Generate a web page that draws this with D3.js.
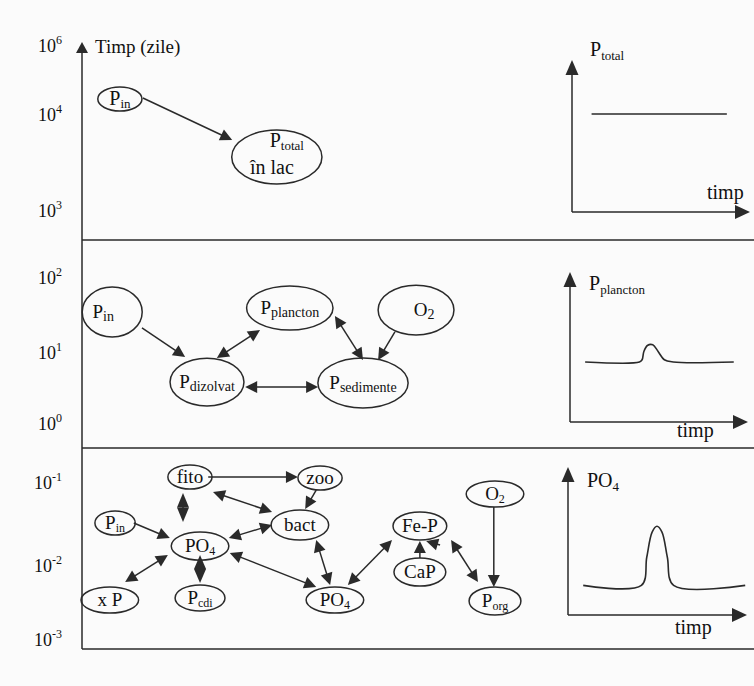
<!DOCTYPE html>
<html>
<head>
<meta charset="utf-8">
<script src="https://cdn.jsdelivr.net/npm/d3@7"></script>
<style>
body { margin: 0; background: #fbfbfb; }
svg, svg text { font-family: "Liberation Serif", "DejaVu Serif", "Times New Roman", serif; }
</style>
</head>
<body>
<div id="chart"></div>
<script>
// time axis: exponent of 10 (zile)
var timeExps = [6, 4, 3, 2, 1, 0, -1, -2, -3];

// diagram nodes: x 0..100 across the diagram, y 0..100 down each panel
var topNodes = [
    {id: "pin", text: "P", sub: "in", x: 8.1, y: 29.5, rx: 4.6, ry: 6},
    {id: "ptot", text: "P", sub: "total", line2: "în lac", x: 40.8, y: 58.5, rx: 9.4, ry: 13.5}
];
var topLinks = [
    [12.9, 29, 31.5, 50, false]
];

var midNodes = [
    {id: "pin", text: "P", sub: "in", x: 6.5, y: 34.6, rx: 6.25, ry: 12},
    {id: "pplancton", text: "P", sub: "plancton", x: 43.5, y: 32.7, rx: 9, ry: 10.6},
    {id: "o2", text: "O", sub: "2", x: 69.8, y: 33.7, rx: 7.9, ry: 12},
    {id: "pdizolvat", text: "P", sub: "dizolvat", x: 26.25, y: 68.3, rx: 7.7, ry: 11.5},
    {id: "psedimente", text: "P", sub: "sedimente", x: 58.75, y: 68.75, rx: 9.4, ry: 12}
];
var midLinks = [
    [12.7, 42.3, 21.7, 56.25, false],
    [28.3, 56.7, 37.3, 43.3, true],
    [34.2, 70.7, 49.4, 70.7, true],
    [52.9, 36.5, 58.75, 57.7, true],
    [65.4, 44.2, 61.9, 57.7, false]
];

var lowNodes = [
    {id: "fito", text: "fito", x: 22.7, y: 14.4, rx: 4.6, ry: 6},
    {id: "zoo", text: "zoo", x: 49.8, y: 14.9, rx: 4.6, ry: 6},
    {id: "o2", text: "O", sub: "2", x: 86.25, y: 22.9, rx: 6, ry: 6.5},
    {id: "pin", text: "P", sub: "in", x: 7.1, y: 37.3, rx: 4.2, ry: 6},
    {id: "bact", text: "bact", x: 45.6, y: 38.3, rx: 6, ry: 7.5},
    {id: "fep", text: "Fe-P", x: 70.6, y: 38.8, rx: 5.6, ry: 7},
    {id: "po4a", text: "PO", sub: "4", x: 24.8, y: 48.8, rx: 6, ry: 7},
    {id: "cap", text: "CaP", x: 70.6, y: 61.7, rx: 5.4, ry: 7},
    {id: "xp", text: "x P", x: 6, y: 75.6, rx: 6, ry: 6.5},
    {id: "pcdi", text: "P", sub: "cdi", x: 24.8, y: 74.6, rx: 5.2, ry: 6.5},
    {id: "po4b", text: "PO", sub: "4", x: 52.9, y: 75.6, rx: 6, ry: 6.5},
    {id: "porg", text: "P", sub: "org", x: 86.25, y: 76.1, rx: 5.4, ry: 7}
];
var lowLinks = [
    [26.5, 14.4, 45.2, 14.4, false],
    [49, 20.9, 46.7, 30.3, false],
    [27.5, 21.9, 39.8, 31.8, true],
    [21.25, 22.4, 21.25, 36.8, true],
    [11, 37.3, 18.5, 44.8, false],
    [30.8, 44.8, 39.8, 38.3, true],
    [24.8, 53.2, 24.8, 67.2, true],
    [9.2, 66.7, 18.1, 53.2, true],
    [31, 52.2, 49, 69.2, true],
    [49, 45.8, 51.9, 68.2, true],
    [55.6, 68.2, 64.8, 45.8, true],
    [70.6, 54.7, 70.6, 46.3, false],
    [74.8, 48.3, 71.9, 46.3, false],
    [77.1, 45.8, 82.7, 66.7, true],
    [86, 29.4, 86, 69.2, false]
];

// small time curves: [timp, value] on 0..10 axes
var ptotalSeries = [[1.1, 6.45], [8.7, 6.45]];
var pplanctonSeries = [[0.85, 4.0], [3.9, 4.0], [4.05, 4.15], [4.15, 4.7], [4.35, 5.1], [4.65, 5.15],
    [4.95, 4.7], [5.3, 4.15], [5.8, 4.0], [9.2, 4.0]];
var po4Series = [[0.85, 2.0], [4.1, 2.0], [4.4, 3.9], [4.7, 5.6], [4.97, 6.0], [5.25, 5.6],
    [5.55, 3.9], [5.9, 2.0], [9.9, 2.0]];

var W = 754, H = 686;
var ink = "#2a2a2a";
var serif = "'Liberation Serif', 'DejaVu Serif', 'Times New Roman', serif";

var svg = d3.select("#chart")
    .append("svg")
    .attr("width", W)
    .attr("height", H)
    .attr("font-family", serif);

svg.append("rect").attr("width", W).attr("height", H).attr("fill", "#fbfbfb");

function head(g, x, y, ux, uy, len, hw) {
    var bx = x - ux * len, by = y - uy * len;
    g.append("path")
        .attr("d", "M" + x + "," + y + "L" + (bx - uy * hw) + "," + (by + ux * hw) +
            "L" + (bx + uy * hw) + "," + (by - ux * hw) + "Z")
        .attr("fill", ink);
}

function arrow(g, x1, y1, x2, y2, both, len, hw) {
    var L = Math.hypot(x2 - x1, y2 - y1), ux = (x2 - x1) / L, uy = (y2 - y1) / L;
    len = len || 12;
    hw = hw || 6;
    if (both && L < 2 * len + 6) len = L / 2;
    var s = both ? len - 2 : 0;
    g.append("line")
        .attr("x1", x1 + ux * s).attr("y1", y1 + uy * s)
        .attr("x2", x2 - ux * (len - 2)).attr("y2", y2 - uy * (len - 2))
        .attr("stroke", ink).attr("stroke-width", 1.5);
    head(g, x2, y2, ux, uy, len, hw);
    if (both) head(g, x1, y1, -ux, -uy, len, hw);
}

// left time axis
var yTime = d3.scaleLinear()
    .domain(timeExps)
    .range([46, 115, 211, 278, 353, 424, 483, 566, 640]);

var axisX = 82;

svg.selectAll(".tick")
    .data(timeExps)
    .enter().append("text")
    .attr("class", "tick")
    .attr("x", 62)
    .attr("y", d => yTime(d) + 6)
    .attr("text-anchor", "end")
    .attr("font-family", serif)
    .attr("font-size", 18)
    .attr("fill", "#111")
    .each(function(d) {
        var t = d3.select(this);
        t.append("tspan").text("10");
        t.append("tspan").attr("font-size", 12).attr("dy", -8).text(d < 0 ? "-" + (-d) : d);
    });

svg.append("text")
    .attr("x", 95).attr("y", 53)
    .attr("font-family", serif)
    .attr("font-size", 19)
    .attr("fill", "#111")
    .text("Timp (zile)");

arrow(svg, axisX, 649, axisX, 42, false, 11, 6);

var panels = [
    {top: 40, bottom: 240, nodes: topNodes, links: topLinks, fs: 20, sfs: 13},
    {top: 240, bottom: 448, nodes: midNodes, links: midLinks, fs: 19, sfs: 14},
    {top: 448, bottom: 649, nodes: lowNodes, links: lowLinks, fs: 19, sfs: 12}
];

// panel separators
svg.selectAll(".sep")
    .data(panels)
    .enter().append("line")
    .attr("class", "sep")
    .attr("x1", axisX).attr("x2", W)
    .attr("y1", d => d.bottom).attr("y2", d => d.bottom)
    .attr("stroke", ink).attr("stroke-width", 1.6);

var gx = d3.scaleLinear().domain([0, 100]).range([axisX - 1, 561]);

var labelShift = {"0-ptot": [10, -16], "1-pin": [-9, 0], "1-o2": [8, 0]};

panels.forEach(function(p, i) {
    var gy = d3.scaleLinear().domain([0, 100]).range([p.top, p.bottom]);
    var g = svg.append("g");

    g.selectAll("ellipse")
        .data(p.nodes)
        .enter().append("ellipse")
        .attr("cx", d => gx(d.x))
        .attr("cy", d => gy(d.y))
        .attr("rx", d => gx(d.rx) - gx(0))
        .attr("ry", d => gy(d.ry) - gy(0))
        .attr("fill", "none")
        .attr("stroke", ink)
        .attr("stroke-width", 1.5);

    p.nodes.forEach(function(d) {
        var sh = labelShift[i + "-" + d.id] || [0, 0];
        var t = g.append("text")
            .attr("x", gx(d.x) + sh[0])
            .attr("y", gy(d.y) + 6 + sh[1])
            .attr("text-anchor", "middle")
            .attr("font-family", serif)
            .attr("font-size", p.fs)
            .attr("fill", "#111");
        t.append("tspan").text(d.text);
        if (d.sub) t.append("tspan").attr("font-size", p.sfs).attr("dy", 3).text(d.sub);
        if (d.line2) {
            g.append("text")
                .attr("x", gx(d.x) - 5)
                .attr("y", gy(d.y) + 17)
                .attr("text-anchor", "middle")
                .attr("font-family", serif)
                .attr("font-size", p.fs)
                .attr("fill", "#111")
                .text(d.line2);
        }
    });

    p.links.forEach(l => arrow(g, gx(l[0]), gy(l[1]), gx(l[2]), gy(l[3]), l[4]));
});

// small time charts on the right
var minis = [
    {left: 572, right: 750, top: 60, bottom: 212, series: ptotalSeries, text: "P", sub: "total", lx: 590, ly: 56, tx: 707, ty: 199},
    {left: 570, right: 748, top: 272, bottom: 422, series: pplanctonSeries, text: "P", sub: "plancton", lx: 589, ly: 290, tx: 677, ty: 437},
    {left: 568, right: 747, top: 467, bottom: 615, series: po4Series, text: "PO", sub: "4", lx: 587, ly: 487, tx: 675, ty: 634}
];

minis.forEach(function(c) {
    var x = d3.scaleLinear().domain([0, 10]).range([c.left, c.right]);
    var y = d3.scaleLinear().domain([0, 10]).range([c.bottom, c.top]);
    var g = svg.append("g");

    arrow(g, x(0), y(0), x(0), y(10), false, 15, 6.5);
    arrow(g, x(0), y(0), x(10), y(0), false, 15, 7);

    g.append("path")
        .datum(c.series)
        .attr("d", d3.line().x(d => x(d[0])).y(d => y(d[1])).curve(d3.curveCatmullRom))
        .attr("fill", "none")
        .attr("stroke", ink)
        .attr("stroke-width", 1.6);

    var t = g.append("text")
        .attr("x", c.lx).attr("y", c.ly)
        .attr("font-family", serif)
        .attr("font-size", 20)
        .attr("fill", "#111");
    t.append("tspan").text(c.text);
    t.append("tspan").attr("font-size", 13).attr("dy", 4).text(c.sub);

    g.append("text")
        .attr("x", c.tx).attr("y", c.ty)
        .attr("font-family", serif)
        .attr("font-size", 20)
        .attr("fill", "#111")
        .text("timp");
});
</script>
</body>
</html>
